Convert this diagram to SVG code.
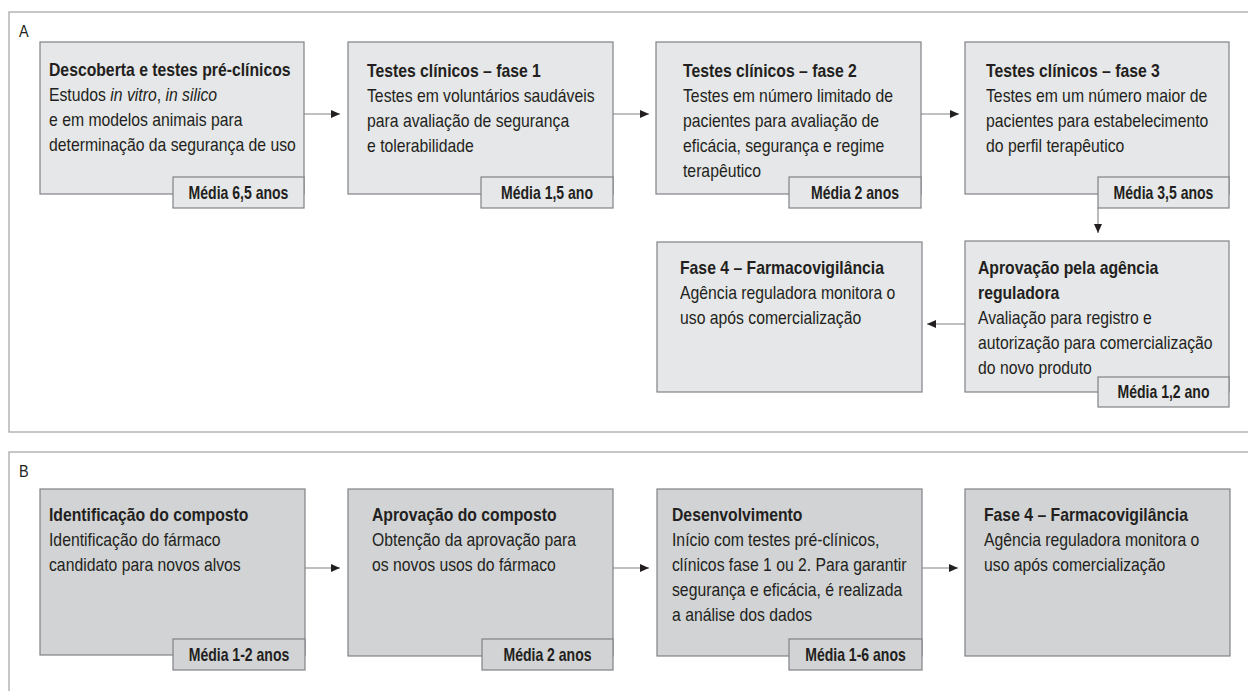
<svg xmlns="http://www.w3.org/2000/svg" width="1248" height="691" viewBox="0 0 1248 691">
<style>
.panel{fill:#ffffff;stroke:#a7a9ac;stroke-width:1.3}
.boxA{fill:#e6e7e8;stroke:#808285;stroke-width:1.2}
.boxB{fill:#d1d3d4;stroke:#808285;stroke-width:1.2}
.t{font-family:"Liberation Sans",Arial,sans-serif;font-size:18px;fill:#231f20}
.b{font-weight:bold}
.i{font-style:italic}
.badge{font-family:"Liberation Sans",Arial,sans-serif;font-size:18px;font-weight:bold;fill:#231f20;text-anchor:middle}
.lbl{font-family:"Liberation Sans",Arial,sans-serif;font-size:17px;fill:#231f20}
.conn{fill:none;stroke:#808285;stroke-width:1.1}
</style>
<defs>
<marker id="ah" markerUnits="userSpaceOnUse" markerWidth="10" markerHeight="8" refX="9" refY="4" orient="auto">
<path d="M0,0 L9,4 L0,8 Z" fill="#231f20"/>
</marker>
</defs>
<rect width="1248" height="691" fill="#ffffff"/>
<g id="panelA">
<rect class="panel" x="9" y="12" width="1260" height="420"/>
<text class="lbl" transform="translate(19,37) scale(0.85,1)">A</text>
</g>
<g id="panelB">
<rect class="panel" x="9" y="452" width="1260" height="260"/>
<text class="lbl" transform="translate(19,477) scale(0.85,1)">B</text>
</g>

<g id="connectors">
<line class="conn" x1="304" y1="114" x2="340" y2="114" marker-end="url(#ah)"/>
<line class="conn" x1="613" y1="114" x2="649" y2="114" marker-end="url(#ah)"/>
<line class="conn" x1="921" y1="114" x2="959" y2="114" marker-end="url(#ah)"/>
<line class="conn" x1="1098" y1="208" x2="1098" y2="233" marker-end="url(#ah)"/>
<line class="conn" x1="968" y1="324" x2="927" y2="324" marker-end="url(#ah)"/>
<line class="conn" x1="305" y1="568" x2="340" y2="568" marker-end="url(#ah)"/>
<line class="conn" x1="613" y1="568" x2="649" y2="568" marker-end="url(#ah)"/>
<line class="conn" x1="922" y1="568" x2="958" y2="568" marker-end="url(#ah)"/>
</g>

<g id="a1">
<rect class="boxA" x="40" y="42" width="264" height="152"/>
<text class="t" transform="translate(49,76) scale(0.875,1)"><tspan class="b" x="0" y="0">Descoberta e testes pré-clínicos</tspan><tspan x="0" y="25">Estudos <tspan class="i">in vitro</tspan>, <tspan class="i">in silico</tspan></tspan><tspan x="0" y="50">e em modelos animais para</tspan><tspan x="0" y="75">determinação da segurança de uso</tspan></text>
<rect class="boxA" x="173" y="177" width="131" height="31"/>
<text class="badge" transform="translate(238.5,199) scale(0.78,1)">Média 6,5 anos</text>
</g>

<g id="a2">
<rect class="boxA" x="348" y="42" width="265" height="152"/>
<text class="t" transform="translate(367,77) scale(0.875,1)"><tspan class="b" x="0" y="0">Testes clínicos – fase 1</tspan><tspan x="0" y="25">Testes em voluntários saudáveis</tspan><tspan x="0" y="50">para avaliação de segurança</tspan><tspan x="0" y="75">e tolerabilidade</tspan></text>
<rect class="boxA" x="481" y="177" width="132" height="31"/>
<text class="badge" transform="translate(547,199) scale(0.78,1)">Média 1,5 ano</text>
</g>

<g id="a3">
<rect class="boxA" x="656" y="42" width="265" height="152"/>
<text class="t" transform="translate(683,77) scale(0.875,1)"><tspan class="b" x="0" y="0">Testes clínicos – fase 2</tspan><tspan x="0" y="25">Testes em número limitado de</tspan><tspan x="0" y="50">pacientes para avaliação de</tspan><tspan x="0" y="75">eficácia, segurança e regime</tspan><tspan x="0" y="100">terapêutico</tspan></text>
<rect class="boxA" x="789" y="177" width="132" height="31"/>
<text class="badge" transform="translate(855,199) scale(0.78,1)">Média 2 anos</text>
</g>

<g id="a4">
<rect class="boxA" x="965" y="42" width="264" height="152"/>
<text class="t" transform="translate(986,77) scale(0.875,1)"><tspan class="b" x="0" y="0">Testes clínicos – fase 3</tspan><tspan x="0" y="25">Testes em um número maior de</tspan><tspan x="0" y="50">pacientes para estabelecimento</tspan><tspan x="0" y="75">do perfil terapêutico</tspan></text>
<rect class="boxA" x="1098" y="177" width="131" height="31"/>
<text class="badge" transform="translate(1163.5,199) scale(0.78,1)">Média 3,5 anos</text>
</g>

<g id="a5">
<rect class="boxA" x="965" y="241" width="264" height="151"/>
<text class="t" transform="translate(978,274) scale(0.875,1)"><tspan class="b" x="0" y="0">Aprovação pela agência</tspan><tspan class="b" x="0" y="25">reguladora</tspan><tspan x="0" y="50">Avaliação para registro e</tspan><tspan x="0" y="75">autorização para comercialização</tspan><tspan x="0" y="100">do novo produto</tspan></text>
<rect class="boxA" x="1098" y="377" width="131" height="30"/>
<text class="badge" transform="translate(1163.5,398) scale(0.78,1)">Média 1,2 ano</text>
</g>

<g id="a6">
<rect class="boxA" x="657" y="242" width="265" height="150"/>
<text class="t" transform="translate(680,274) scale(0.875,1)"><tspan class="b" x="0" y="0">Fase 4 – Farmacovigilância</tspan><tspan x="0" y="25">Agência reguladora monitora o</tspan><tspan x="0" y="50">uso após comercialização</tspan></text>
</g>

<g id="b1">
<rect class="boxB" x="40" y="489" width="265" height="166"/>
<text class="t" transform="translate(49,521) scale(0.875,1)"><tspan class="b" x="0" y="0">Identificação do composto</tspan><tspan x="0" y="25">Identificação do fármaco</tspan><tspan x="0" y="50">candidato para novos alvos</tspan></text>
<rect class="boxB" x="173" y="639" width="132" height="31"/>
<text class="badge" transform="translate(239,661) scale(0.78,1)">Média 1-2 anos</text>
</g>

<g id="b2">
<rect class="boxB" x="348" y="489" width="265" height="167"/>
<text class="t" transform="translate(372,521) scale(0.875,1)"><tspan class="b" x="0" y="0">Aprovação do composto</tspan><tspan x="0" y="25">Obtenção da aprovação para</tspan><tspan x="0" y="50">os novos usos do fármaco</tspan></text>
<rect class="boxB" x="482" y="639" width="131" height="31"/>
<text class="badge" transform="translate(547.5,661) scale(0.78,1)">Média 2 anos</text>
</g>

<g id="b3">
<rect class="boxB" x="657" y="489" width="265" height="167"/>
<text class="t" transform="translate(672,521) scale(0.875,1)"><tspan class="b" x="0" y="0">Desenvolvimento</tspan><tspan x="0" y="25">Início com testes pré-clínicos,</tspan><tspan x="0" y="50">clínicos fase 1 ou 2. Para garantir</tspan><tspan x="0" y="75">segurança e eficácia, é realizada</tspan><tspan x="0" y="100">a análise dos dados</tspan></text>
<rect class="boxB" x="789" y="639" width="133" height="31"/>
<text class="badge" transform="translate(855.5,661) scale(0.78,1)">Média 1-6 anos</text>
</g>

<g id="b4">
<rect class="boxB" x="965" y="489" width="265" height="167"/>
<text class="t" transform="translate(984,521) scale(0.875,1)"><tspan class="b" x="0" y="0">Fase 4 – Farmacovigilância</tspan><tspan x="0" y="25">Agência reguladora monitora o</tspan><tspan x="0" y="50">uso após comercialização</tspan></text>
</g>
</svg>
